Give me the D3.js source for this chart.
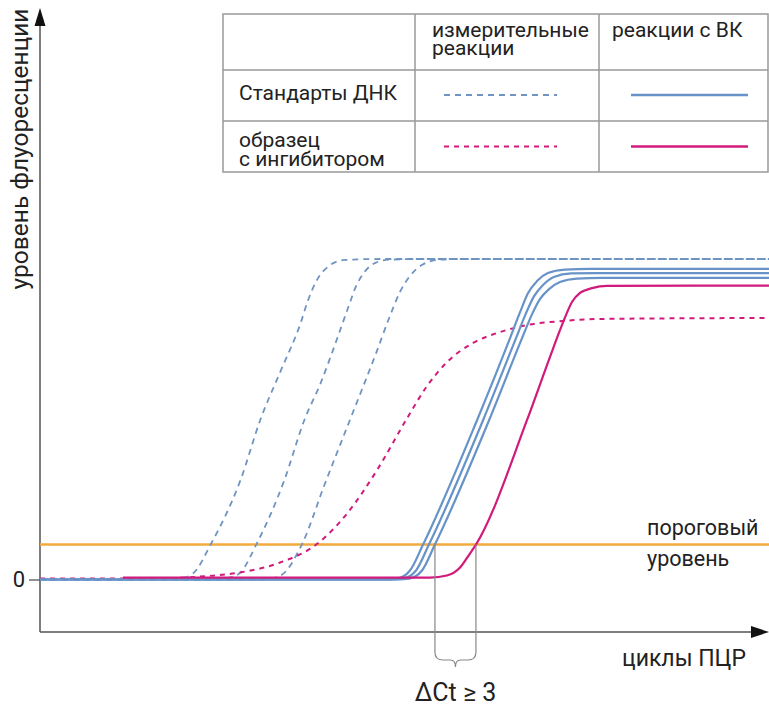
<!DOCTYPE html>
<html>
<head>
<meta charset="utf-8">
<script src="https://cdn.jsdelivr.net/npm/d3@7"></script>
<style>
    body { margin: 0; background: #fff; }
    text { font-family: Roboto, "Liberation Sans", sans-serif; fill: #222; }
</style>
</head>
<body>
<svg id="chart" width="769" height="706"></svg>
<script>
// кривые ПЦР в реальном времени: циклы (0..40) / флуоресценция (отн. ед., 0..100)

// стандарты ДНК, измерительные реакции (пунктир)
const stdMeasured = [
    [[0, 0], [6, 0], [7.7, 0.3], [8.4, 1.9], [9.4, 11.3], [11, 31], [12.1, 50], [13.2, 65], [14.3, 80],
     [14.7, 87], [15.2, 93.5], [15.9, 98], [16.7, 99.7], [18.7, 100], [40, 100]],
    [[0, 0], [8.8, 0], [10.4, 0.6], [11, 2.2], [11.9, 11.3], [13.4, 30.9], [14.5, 49.7], [15.4, 61.3],
     [16.35, 75.9], [16.9, 84.7], [17.35, 91.6], [17.8, 95.9], [18.4, 98.8], [19.2, 99.8], [20.9, 100], [40, 100]],
    [[0, 0], [12.3, 0], [13.2, 1.25], [14.4, 11.3], [15.6, 29.4], [17, 49.7], [18.4, 70], [19.2, 82.2],
     [19.75, 89.7], [20.3, 94.7], [20.95, 98.1], [21.8, 99.7], [23, 100], [40, 100]]
];

// стандарты ДНК, реакции с ВК (сплошные)
const stdControl = [
    [[0, 0], [18.66, 0], [19.59, 0.3], [20.3, 2.8], [21.02, 10.9], [23.98, 49.7], [25.79, 75.3],
     [26.34, 83.4], [26.78, 89.4], [27.27, 93.1], [27.87, 95.6], [28.81, 96.7], [30.18, 96.9], [40, 96.9]],
    [[0, 0], [18.98, 0], [19.92, 0.3], [20.63, 2.8], [21.34, 10.9], [24.31, 49.7], [26.12, 75.3],
     [26.67, 83.1], [27.11, 88.4], [27.6, 91.9], [28.2, 94.4], [29.14, 95.5], [30.51, 95.6], [40, 95.6]],
    [[0, 0], [19.31, 0], [20.25, 0.3], [20.96, 2.8], [21.67, 10.9], [24.64, 49.7], [26.45, 75.3],
     [27, 82.8], [27.43, 87.5], [27.93, 90.6], [28.53, 92.8], [29.47, 93.9], [30.84, 94.1], [40, 94.1]]
];

// образец с ингибитором
const inhMeasured = [[0, 0.3], [6.04, 0.3], [8.78, 0.9], [10.97, 2.2], [13.17, 5.3], [15.25, 11.3],
    [16.85, 20.6], [18.49, 34.1], [20.14, 50.3], [21.23, 60.3], [22.33, 67.8], [23.76, 73.8],
    [25.24, 77.2], [26.72, 79.4], [28.53, 80.6], [30.73, 81.3], [40, 81.6]];
const inhControl = [[4.55, 0.6], [21.4, 0.6], [22.33, 1.25], [23.05, 3.75], [23.59, 8.1], [23.92, 10.9],
    [26.72, 49.7], [27.98, 69.4], [28.53, 77.8], [28.86, 82.5], [29.19, 86.6], [29.63, 89.4],
    [30.29, 90.9], [31.11, 91.6], [40, 91.7]];

const threshold = 10.9;
const ctMarks = [21.67, 23.92];   // Ct станд. и образца с ингибитором
const yTicks = [0];

const colHeaders = [["измерительные", "реакции"], ["реакции с ВК"]];
const rowLabels = [["Стандарты ДНК"], ["образец", "с ингибитором"]];

const BLUE = "#6793c8", BLUE_D = "#6f94c2", PINK = "#d11a7c", ORANGE = "#f2aa3c", AXIS = "#555";
const rowColors = [BLUE, PINK];

var svg = d3.select("#chart");

var x = d3.scaleLinear().domain([0, 40]).range([40, 769]);
var y = d3.scaleLinear().domain([0, 100]).range([579.5, 259]);

const axisBottomY = 632, axisTopY = 8;

// оси
svg.append("line")
    .attr("x1", 40).attr("y1", axisBottomY).attr("x2", 40).attr("y2", axisTopY + 14)
    .attr("stroke", AXIS).attr("stroke-width", 1.5);
svg.append("line")
    .attr("x1", 40).attr("y1", axisBottomY).attr("x2", 755).attr("y2", axisBottomY)
    .attr("stroke", AXIS).attr("stroke-width", 1.5);
svg.append("path")
    .attr("d", "M40," + axisTopY + " L34.5," + (axisTopY + 18) + " L45.5," + (axisTopY + 18) + " Z")
    .attr("fill", "#111");
svg.append("path")
    .attr("d", "M769," + axisBottomY + " L751," + (axisBottomY - 6) + " L751," + (axisBottomY + 6) + " Z")
    .attr("fill", "#111");

var yAxis = svg.append("g")
    .attr("transform", "translate(40,0)")
    .call(d3.axisLeft(y).tickValues(yTicks).tickSize(11).tickPadding(4));
yAxis.select(".domain").remove();
yAxis.selectAll(".tick line").attr("stroke", AXIS).attr("stroke-width", 1.3);
yAxis.selectAll(".tick text").style("font-size", "22px").attr("fill", "#222")
    .style("font-family", "Roboto, sans-serif");

svg.append("text")
    .attr("transform", "translate(28,149) rotate(-90)")
    .attr("text-anchor", "middle")
    .style("font-size", "24.5px")
    .text("уровень флуоресценции");

svg.append("text")
    .attr("x", 622).attr("y", 666)
    .style("font-size", "23px")
    .text("циклы ПЦР");

// пороговый уровень
svg.append("line")
    .attr("x1", 40).attr("x2", 769)
    .attr("y1", y(threshold)).attr("y2", y(threshold))
    .attr("stroke", ORANGE).attr("stroke-width", 2.5);
svg.append("text").attr("x", 647).attr("y", 535).style("font-size", "21.5px").text("пороговый");
svg.append("text").attr("x", 647).attr("y", 566).style("font-size", "21.5px").text("уровень");

var line = d3.line()
    .x(function (d) { return x(d[0]); })
    .y(function (d) { return y(d[1]); })
    .curve(d3.curveMonotoneX);

svg.selectAll(".std-measured")
    .data(stdMeasured)
    .enter().append("path")
    .attr("class", "std-measured")
    .attr("d", line)
    .attr("fill", "none")
    .attr("stroke", BLUE_D).attr("stroke-width", 1.8)
    .attr("stroke-dasharray", "6,5");

svg.append("path")
    .attr("d", line(inhMeasured))
    .attr("fill", "none")
    .attr("stroke", PINK).attr("stroke-width", 2)
    .attr("stroke-dasharray", "5,5");

svg.selectAll(".std-control")
    .data(stdControl)
    .enter().append("path")
    .attr("class", "std-control")
    .attr("d", line)
    .attr("fill", "none")
    .attr("stroke", BLUE).attr("stroke-width", 2.2);

svg.append("path")
    .attr("d", line(inhControl))
    .attr("fill", "none")
    .attr("stroke", PINK).attr("stroke-width", 2.2);

// ΔCt
var x1 = x(ctMarks[0]), x2 = x(ctMarks[1]), xm = (x1 + x2) / 2;
var yt = y(threshold);
var brace = d3.path();
brace.moveTo(x1, yt);
brace.lineTo(x1, 652);
brace.quadraticCurveTo(x1, 660, x1 + 8, 660);
brace.lineTo(xm - 5, 660);
brace.quadraticCurveTo(xm, 660, xm, 667);
brace.quadraticCurveTo(xm, 660, xm + 5, 660);
brace.lineTo(x2 - 8, 660);
brace.quadraticCurveTo(x2, 660, x2, 652);
brace.lineTo(x2, yt);
svg.append("path")
    .attr("d", brace.toString())
    .attr("fill", "none")
    .attr("stroke", "#888").attr("stroke-width", 1.2);
svg.append("text")
    .attr("x", xm).attr("y", 701)
    .attr("text-anchor", "middle")
    .style("font-size", "25px")
    .text("ΔCt ≥ 3");

// таблица-легенда
const tLeft = 223, tRight = 768, tTop = 14, tRows = [70, 121, 172], tCols = [415, 599];
var legend = svg.append("g");
legend.append("rect")
    .attr("x", tLeft).attr("y", tTop)
    .attr("width", tRight - tLeft).attr("height", tRows[2] - tTop)
    .attr("fill", "#fff").attr("stroke", "#999").attr("stroke-width", 1.5);
tRows.slice(0, 2).forEach(function (ry) {
    legend.append("line").attr("x1", tLeft).attr("x2", tRight).attr("y1", ry).attr("y2", ry)
        .attr("stroke", "#999").attr("stroke-width", 1.5);
});
tCols.forEach(function (cx) {
    legend.append("line").attr("x1", cx).attr("x2", cx).attr("y1", tTop).attr("y2", tRows[2])
        .attr("stroke", "#999").attr("stroke-width", 1.5);
});

// многострочные подписи: один text с tspan
function multiline(g, tx, ty, lines, lh) {
    var t = g.append("text").attr("x", tx).attr("y", ty).style("font-size", "21px");
    lines.forEach(function (s, j) {
        t.append("tspan").attr("x", tx).attr("dy", j == 0 ? 0 : lh).text(s);
    });
    return t;
}

colHeaders.forEach(function (lines, i) {
    multiline(legend, tCols[i] + (i == 0 ? 17 : 13), 37, lines, 18);
});

var rowText = [100, 147];
rowLabels.forEach(function (lines, i) {
    multiline(legend, 239, rowText[i], lines, 19);
    var ly = i == 0 ? 95 : 146.5;
    legend.append("line")
        .attr("x1", 444).attr("x2", 557).attr("y1", ly).attr("y2", ly)
        .attr("stroke", i == 0 ? BLUE_D : PINK).attr("stroke-width", i == 0 ? 1.8 : 2)
        .attr("stroke-dasharray", i == 0 ? "6,5" : "5,5");
    legend.append("line")
        .attr("x1", 631).attr("x2", 748).attr("y1", ly).attr("y2", ly)
        .attr("stroke", rowColors[i]).attr("stroke-width", 2.4);
});
</script>
</body>
</html>
